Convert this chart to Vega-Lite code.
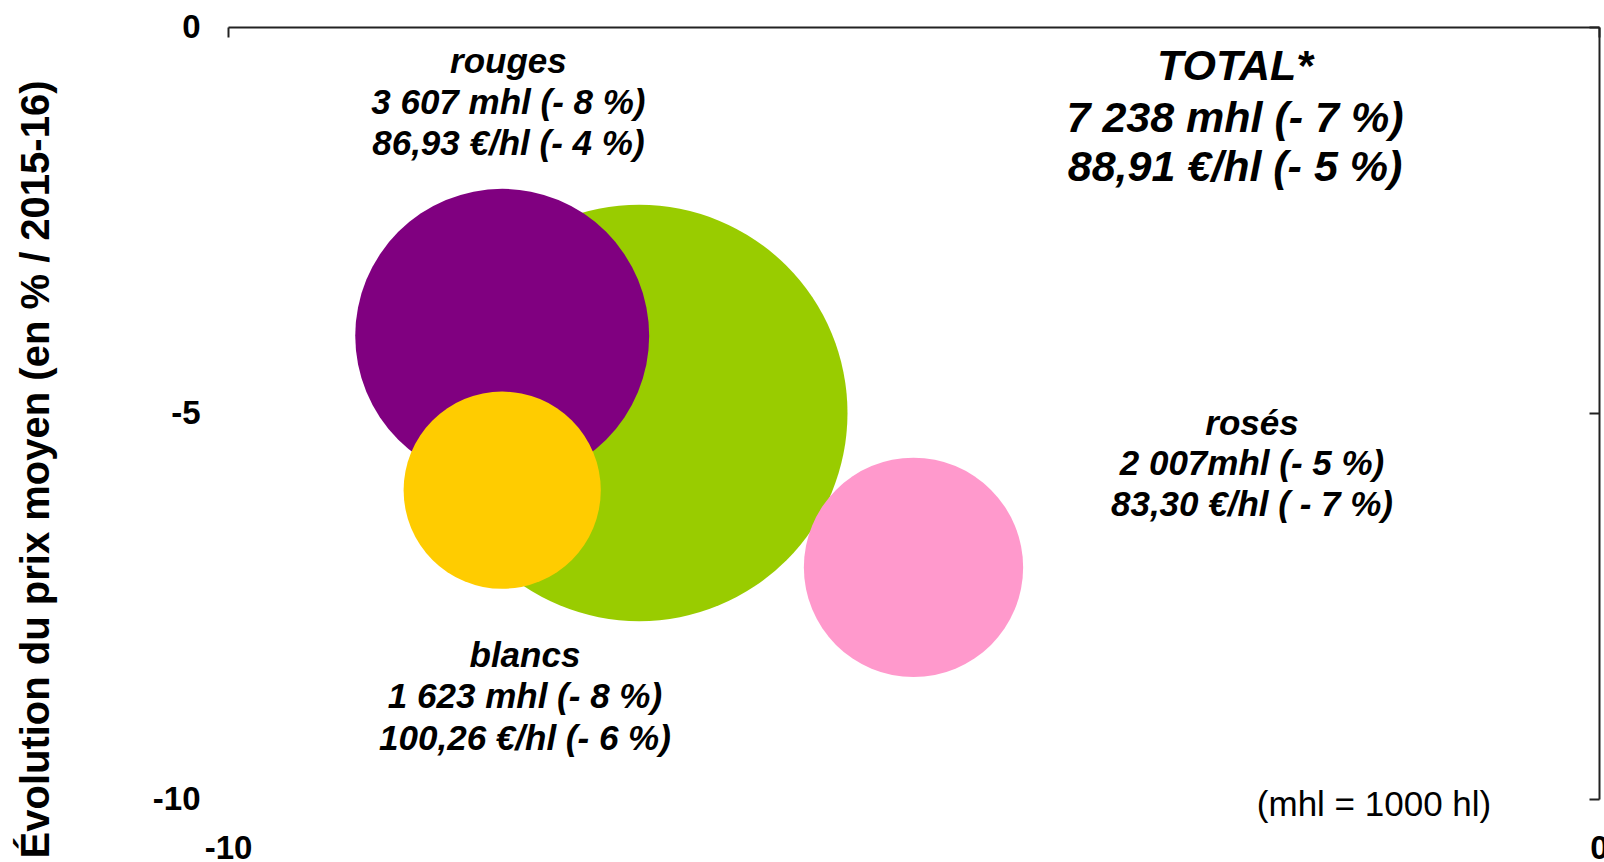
{
  "$schema": "https://vega.github.io/schema/vega-lite/v6.json",
  "autosize": {"type": "none"},
  "width": 1371,
  "height": 772,
  "padding": {"left": 228, "top": 27, "right": 5, "bottom": 63},
  "background": "white",
  "config": {
    "view": {"stroke": null},
    "font": "Liberation Sans",
    "axis": {"grid": false, "labelFont": "Liberation Sans", "titleFont": "Liberation Sans"}
  },
  "datasets": {
    "bubbles": [
      {"cat": "total", "x": -7, "y": -5, "vol": 7238, "ord": 1},
      {"cat": "rouges", "x": -8, "y": -4, "vol": 3607, "ord": 2},
      {"cat": "blancs", "x": -8, "y": -6, "vol": 1623, "ord": 3},
      {"cat": "rosés", "x": -5, "y": -7, "vol": 2007, "ord": 4}
    ],
    "labels": [
      {"x": -7.955, "y": -0.598, "t": "rouges"},
      {"x": -7.955, "y": -1.129, "t": "3 607 mhl (- 8 %)"},
      {"x": -7.955, "y": -1.660, "t": "86,93 €/hl (- 4 %)"},
      {"x": -2.531, "y": -5.286, "t": "rosés"},
      {"x": -2.531, "y": -5.804, "t": "2 007mhl (- 5 %)"},
      {"x": -2.531, "y": -6.335, "t": "83,30 €/hl ( - 7 %)"},
      {"x": -7.834, "y": -8.291, "t": "blancs"},
      {"x": -7.834, "y": -8.822, "t": "1 623 mhl (- 8 %)"},
      {"x": -7.834, "y": -9.367, "t": "100,26 €/hl (- 6 %)"}
    ],
    "total": [
      {"x": -2.655, "y": -0.688, "t": "TOTAL*"},
      {"x": -2.655, "y": -1.362, "t": "7 238 mhl (- 7 %)"},
      {"x": -2.655, "y": -1.997, "t": "88,91 €/hl (- 5 %)"}
    ],
    "note": [
      {"x": -1.641, "y": -10.22, "t": "(mhl = 1000 hl)"}
    ]
  },
  "layer": [
    {
      "data": {"name": "bubbles"},
      "mark": {"type": "point", "filled": true, "opacity": 1, "strokeWidth": 0},
      "encoding": {
        "x": {"field": "x", "type": "quantitative", "scale": {"domain": [-10, 0], "nice": false, "zero": false},
          "axis": {"orient": "top", "labels": false, "title": null, "domain": true, "domainColor": "#222", "domainWidth": 2, "ticks": true, "tickColor": "#222", "tickWidth": 2, "tickSize": -10, "values": [-10, 0]}},
        "y": {"field": "y", "type": "quantitative", "scale": {"domain": [-10, 0], "nice": false, "zero": false},
          "axis": {"orient": "right", "labels": false, "title": null, "domain": true, "domainColor": "#222", "domainWidth": 2, "ticks": true, "tickColor": "#222", "tickWidth": 2, "tickSize": -10, "values": [-10, -5, 0]}},
        "size": {"field": "vol", "type": "quantitative", "scale": {"type": "linear", "domain": [0, 7238], "range": [0, 173388], "zero": true}, "legend": null},
        "color": {"field": "cat", "type": "nominal", "scale": {"domain": ["total", "rouges", "blancs", "rosés"], "range": ["#99CC00", "#800080", "#FFCC00", "#FF99CC"]}, "legend": null},
        "order": {"field": "ord", "type": "quantitative"}
      }
    },
    {
      "data": {"name": "labels"},
      "mark": {"type": "text", "font": "Liberation Sans", "fontSize": 35, "fontWeight": "bold", "fontStyle": "italic", "align": "center", "baseline": "alphabetic", "color": "black"},
      "encoding": {
        "x": {"field": "x", "type": "quantitative", "scale": {"domain": [-10, 0], "nice": false, "zero": false},
          "axis": {"orient": "bottom", "domain": false, "ticks": false, "labels": true, "values": [-10, 0], "labelExpr": "datum.value == 0 ? '0' : '-' + abs(datum.value)", "labelPadding": 33, "labelFontSize": 33, "labelFontWeight": "bold", "labelColor": "black", "labelFlush": false, "labelOverlap": false, "labelBound": false, "title": null}},
        "y": {"field": "y", "type": "quantitative", "scale": {"domain": [-10, 0], "nice": false, "zero": false},
          "axis": {"orient": "left", "domain": false, "ticks": false, "labels": true, "values": [0, -5, -10], "labelExpr": "datum.value == 0 ? '0' : '-' + abs(datum.value)", "labelPadding": 28, "labelFontSize": 33, "labelFontWeight": "bold", "labelColor": "black", "labelFlush": false, "labelOverlap": false, "labelBound": false,
            "title": "Évolution du prix moyen (en % / 2015-16)", "titleFontSize": 40, "titleFontWeight": "bold", "titleColor": "black", "titleAngle": -90, "titleBaseline": "alphabetic", "titleAlign": "center", "titleX": -180, "titleY": 442}},
        "text": {"field": "t", "type": "nominal"}
      }
    },
    {
      "data": {"name": "total"},
      "mark": {"type": "text", "font": "Liberation Sans", "fontSize": 43, "fontWeight": "bold", "fontStyle": "italic", "align": "center", "baseline": "alphabetic", "color": "black"},
      "encoding": {
        "x": {"field": "x", "type": "quantitative", "scale": {"domain": [-10, 0], "nice": false, "zero": false}, "axis": null},
        "y": {"field": "y", "type": "quantitative", "scale": {"domain": [-10, 0], "nice": false, "zero": false}, "axis": null},
        "text": {"field": "t", "type": "nominal"}
      }
    },
    {
      "data": {"name": "note"},
      "mark": {"type": "text", "font": "Liberation Sans", "fontSize": 35, "align": "center", "baseline": "alphabetic", "color": "black"},
      "encoding": {
        "x": {"field": "x", "type": "quantitative", "scale": {"domain": [-10, 0], "nice": false, "zero": false}, "axis": null},
        "y": {"field": "y", "type": "quantitative", "scale": {"domain": [-10, 0], "nice": false, "zero": false}, "axis": null},
        "text": {"field": "t", "type": "nominal"}
      }
    }
  ],
  "resolve": {"axis": {"x": "independent", "y": "independent"}}
}
